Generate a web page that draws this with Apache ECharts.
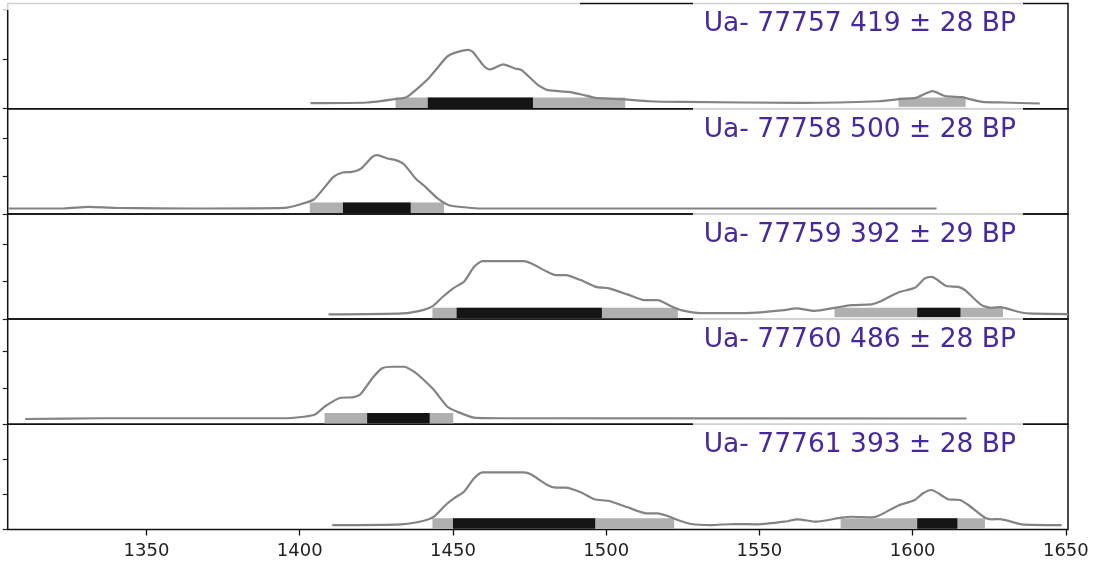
<!DOCTYPE html>
<html>
<head>
<meta charset="utf-8">
<script src="https://cdn.jsdelivr.net/npm/echarts@6.0.0/dist/echarts.min.js"></script>
<style>
  html, body { margin: 0; padding: 0; background: #fff; }
  #chart { width: 1095px; height: 567px; }
</style>
</head>
<body>
<div id="chart"></div>
<script>
// calibrated dates, one panel each (year AD, density x1000)
var labIds = ["Ua- 77757", "Ua- 77758", "Ua- 77759", "Ua- 77760", "Ua- 77761"];
var ages = [419, 500, 392, 486, 393];
var errs = [28, 28, 29, 28, 28];

var curve77757 = [[1403.5,0.55],[1422,0.62],[1431,0.96],[1435,1.19],[1442,3.04],[1448,5.2],[1450.5,5.6],[1455,5.9],[1456.5,5.7],[1460.3,4.2],[1462,3.94],[1466.4,4.45],[1470.2,4.04],[1472.4,3.87],[1477.8,2.36],[1481,1.86],[1487.6,1.69],[1492,1.43],[1496.4,1.09],[1506,0.93],[1514,0.75],[1525,0.68],[1564,0.58],[1589,0.75],[1595.7,0.96],[1601,1.09],[1606.5,1.76],[1610.7,1.26],[1616.3,1.16],[1618.6,0.96],[1622.8,0.68],[1629.4,0.62],[1641.5,0.52]];
var curve77758 = [[1305,0.71],[1323,0.71],[1331,0.92],[1340,0.79],[1367.5,0.71],[1395,0.79],[1400,1.24],[1404.6,1.89],[1407.8,3.34],[1411,4.87],[1414,5.45],[1417,5.53],[1420,5.97],[1423.7,7.5],[1425.3,7.72],[1428.6,7.29],[1431.3,7.07],[1434,6.54],[1437.8,4.66],[1441,3.55],[1445,2.03],[1448.7,1.14],[1454.7,0.84],[1459,0.71],[1607.8,0.71]];
var curve77759 = [[1409.4,0.63],[1433.6,0.76],[1440.2,1.2],[1443.4,1.74],[1446.7,2.99],[1450.3,4.19],[1453.6,4.99],[1456.9,7.0],[1459.6,7.76],[1473.2,7.76],[1475.4,7.46],[1480.8,6.33],[1483.5,5.89],[1486.8,5.89],[1491.7,5.22],[1496.6,4.32],[1500.9,4.11],[1506.9,3.31],[1512.4,2.54],[1516.8,2.54],[1521.1,1.74],[1524.4,1.2],[1530.9,0.8],[1547.3,0.84],[1558.2,1.2],[1562,1.43],[1568,1.11],[1574.5,1.51],[1580,1.87],[1586.5,1.97],[1589.2,2.32],[1595.3,3.57],[1600.7,4.19],[1604,5.45],[1606.2,5.66],[1611.1,4.42],[1614.9,4.32],[1617.1,3.88],[1622.5,1.87],[1625.8,1.51],[1628.5,1.61],[1634.5,0.98],[1637.7,0.76],[1650.7,0.67]];
var curve77760 = [[1310.4,0.73],[1334.9,0.83],[1394.8,0.83],[1404.6,1.28],[1408.4,2.52],[1413.3,3.66],[1417.1,3.72],[1419.8,4.13],[1423.7,6.34],[1426.9,7.71],[1430.2,7.93],[1434,7.93],[1437.3,7.25],[1440.5,6.1],[1443.8,4.72],[1448.2,2.42],[1451.4,1.74],[1456.9,0.91],[1465.6,0.83],[1617.6,0.8]];
var curve77761 = [[1410.6,0.64],[1432.9,0.74],[1440.5,1.26],[1443.8,1.83],[1447.6,3.51],[1450.3,4.47],[1453.6,5.42],[1456.9,7.34],[1459.6,8.19],[1473.2,8.19],[1475.4,7.91],[1480.8,6.38],[1483.5,5.99],[1486.8,5.99],[1491.7,5.33],[1496.1,4.33],[1501,4.08],[1507,3.18],[1513,2.32],[1516.8,2.32],[1520.1,1.93],[1523.3,1.36],[1527.7,0.79],[1534.2,0.64],[1541.8,0.79],[1549.5,0.74],[1558.2,1.12],[1562.5,1.46],[1568.5,1.12],[1576.7,1.69],[1580,1.83],[1586.5,1.75],[1588.7,1.93],[1595.2,3.41],[1600.7,4.23],[1603.4,5.19],[1606.1,5.66],[1611.6,4.33],[1615.4,4.23],[1618.2,3.51],[1623.6,1.69],[1625.8,1.46],[1628.5,1.5],[1635.6,0.74],[1648.6,0.64]];
var curves = [curve77757, curve77758, curve77759, curve77760, curve77761];

// highest density ranges: 95.4% (grey) and 68.2% (black)
var hpd95 = [
  [[1431.3,1506.2],[1595.4,1617.3]],
  [[1403.3,1447.1]],
  [[1443.3,1523.4],[1574.5,1629.5]],
  [[1408.1,1450.1]],
  [[1443.3,1522.2],[1576.5,1623.6]]
];
var hpd68 = [
  [[1441.8,1476.1]],
  [[1414.1,1436.2]],
  [[1451.2,1498.6],[1601.5,1615.6]],
  [[1422.0,1442.4]],
  [[1450.0,1496.4],[1601.5,1614.6]]
];

var xTicks = [1350, 1400, 1450, 1500, 1550, 1600, 1650];
var yTicks = [0, 5, 10];
var yMax = [10.56, 13.84, 14.08, 14.49, 15.07];
var xMin = 1304.7, xMax = 1650.7;

var LEFT = 7.7, RIGHT_X = 1068, TOP0 = 3.5, PANEL_H = 105.2, BAR_H = 10.5;

var myChart = echarts.init(document.getElementById("chart"));

function barRenderer(params, api) {
  var a = api.coord([api.value(0), 0]);
  var b = api.coord([api.value(1), 0]);
  return {
    type: "rect",
    shape: { x: a[0], y: a[1] - BAR_H - 0.8, width: b[0] - a[0], height: BAR_H },
    style: { fill: api.visual("color") }
  };
}

var grids = [], xAxes = [], yAxes = [], series = [], graphics = [];

for (var i = 0; i < 5; i++) {
  var panelTop = TOP0 + i * PANEL_H;
  var last = i === 4;
  grids.push({
    left: LEFT, top: panelTop, width: RIGHT_X - LEFT, height: PANEL_H,
    show: true, borderColor: "#111", borderWidth: 1.5
  });
  xAxes.push({
    gridIndex: i, type: "value", min: xMin, max: xMax,
    axisLine: { show: false },
    splitLine: { show: false },
    axisTick: { show: last, length: 6, customValues: xTicks, lineStyle: { color: "#111", width: 1.3 } },
    axisLabel: {
      show: last, customValues: xTicks, margin: 13, fontSize: 18, color: "#222", fontFamily: "DejaVu Sans",
      formatter: function (v) { return String(v); }
    }
  });
  yAxes.push({
    gridIndex: i, type: "value", min: 0, max: yMax[i],
    axisLine: { show: false },
    splitLine: { show: false },
    axisLabel: { show: false },
    axisTick: { show: true, length: 5, customValues: yTicks, lineStyle: { color: "#222", width: 1.2 } }
  });
  series.push({
    type: "custom", xAxisIndex: i, yAxisIndex: i, renderItem: barRenderer,
    itemStyle: { color: "#b0b0b0" }, data: hpd95[i], z: 2, silent: true
  });
  series.push({
    type: "custom", xAxisIndex: i, yAxisIndex: i, renderItem: barRenderer,
    itemStyle: { color: "#151515" }, data: hpd68[i], z: 3, silent: true
  });
  series.push({
    type: "line", xAxisIndex: i, yAxisIndex: i, data: curves[i],
    showSymbol: false, smooth: 0.2, z: 4, silent: true,
    lineStyle: { color: "#838383", width: 2.2 }
  });

  // label box whitens the spine under it
  graphics.push({
    type: "rect", z: 100,
    shape: { x: 693, y: panelTop - 2, width: 330, height: 36 },
    style: { fill: "rgba(255,255,255,0.8)" }
  });
  graphics.push({
    type: "text", z: 101, x: 1016, y: panelTop + 21,
    style: {
      text: labIds[i] + " " + ages[i] + " \u00b1 " + errs[i] + " BP",
      fill: "#47299c", fontSize: 26.5, fontFamily: "DejaVu Sans",
      align: "right", verticalAlign: "middle",
      textAlign: "right", textVerticalAlign: "middle"
    }
  });
}

// cut-off title box at the very top
graphics.push({
  type: "rect", z: 100,
  shape: { x: 0, y: 0, width: 580, height: 10 },
  style: { fill: "rgba(255,255,255,0.8)" }
});

var option = {
  animation: false,
  backgroundColor: "#fff",
  grid: grids,
  xAxis: xAxes,
  yAxis: yAxes,
  series: series,
  graphic: graphics
};

myChart.setOption(option);
</script>
</body>
</html>
